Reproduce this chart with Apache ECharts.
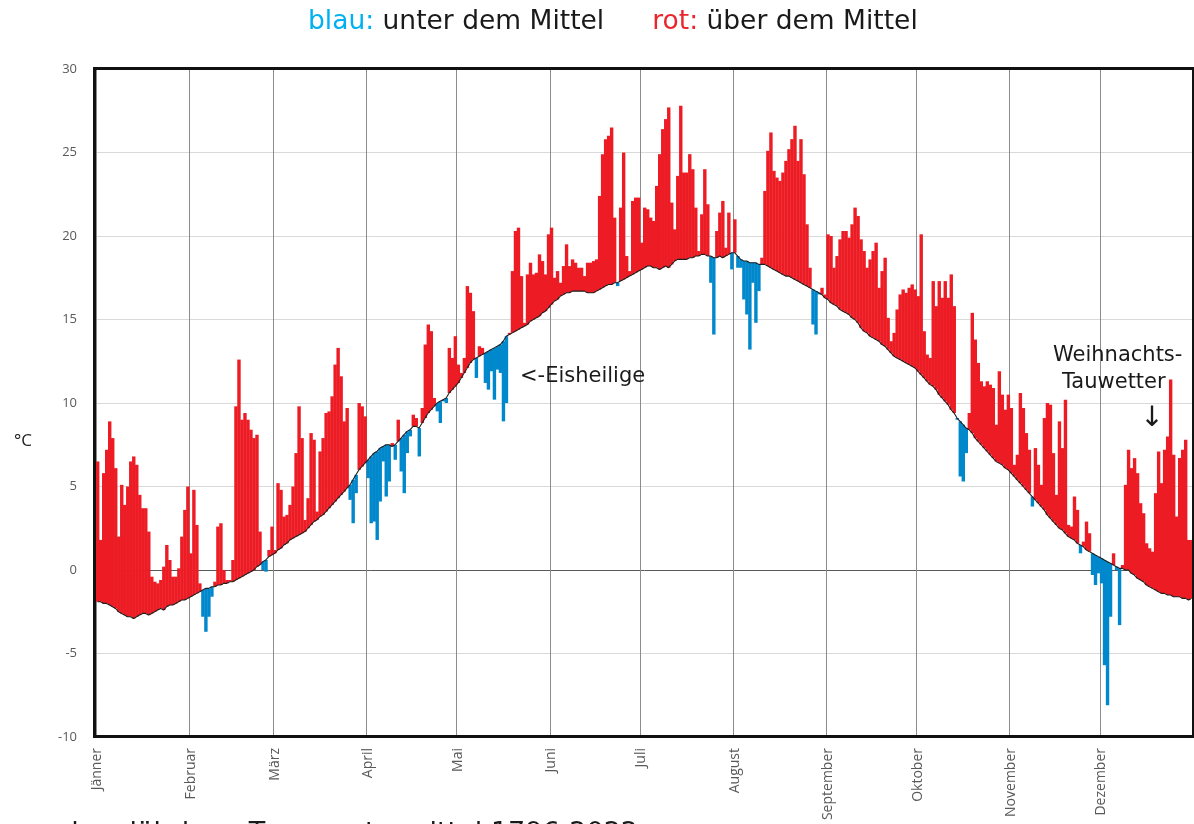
<!DOCTYPE html>
<html>
<head>
<meta charset="utf-8">
<script src="https://cdn.jsdelivr.net/npm/echarts@6/dist/echarts.min.js"></script>
<style>
html,body{margin:0;padding:0;background:#fff;}
#chart{width:1194px;height:824px;}
</style>
</head>
<body>
<div id="chart"></div>
<script>
var monthNames = ['Jänner','Februar','März','April','Mai','Juni','Juli','August','September','Oktober','November','Dezember'];
var monthDays = [31,28,31,30,31,30,31,31,30,31,30,31];

// Tagesmittel 2022 (°C)
var tJan = [6.5,1.8,5.8,7.2,8.9,7.9,6.1,2.0,5.1,3.9,5.0,6.5,6.8,6.3,4.5,3.7,3.7,2.3,-0.4,-0.7,-0.8,-0.6,0.2,1.5,0.6,-0.4,-0.4,0.1,2.0,3.6,5.0];
var tFeb = [1.0,4.8,2.7,-0.8,-2.8,-3.7,-2.8,-1.6,-0.7,2.6,2.8,0.0,-0.6,-0.6,0.6,9.8,12.6,9.0,9.4,9.0,8.4,7.9,8.1,2.3,0.0,-0.1,1.2,2.6];
var tMar = [1.2,5.2,4.8,3.2,3.3,3.9,5.0,7.0,9.8,7.9,3.0,4.3,8.2,7.8,3.5,7.1,7.9,9.4,9.5,10.4,12.3,13.3,11.6,8.9,9.7,4.2,2.8,4.6,10.0,9.8,9.2];
var tApr = [5.5,2.8,2.9,1.8,4.1,6.5,4.4,5.3,7.6,6.6,9.0,5.9,4.6,7.0,8.0,9.3,9.1,6.8,9.7,13.5,14.7,14.3,10.3,9.5,8.8,10.1,10.0,13.3,12.7,14.0];
var tMay = [12.3,11.8,12.7,17.0,16.6,15.5,11.5,13.4,13.3,11.2,10.8,11.9,10.2,12.0,11.8,8.9,10.0,14.2,17.9,20.3,20.5,17.6,14.8,17.7,18.4,17.7,17.8,18.9,18.5,17.7,20.1];
var tJun = [20.5,17.5,17.9,17.2,18.2,19.5,18.2,18.6,18.4,18.1,18.1,17.6,18.4,18.4,18.5,18.6,22.4,24.9,25.8,26.0,26.5,21.1,17.0,21.7,25.0,18.8,17.9,22.1,22.3,22.3];
var tJul = [19.6,21.7,21.6,21.1,20.9,23.0,24.9,26.4,27.0,27.7,22.0,20.4,23.6,27.8,23.8,23.8,24.9,24.0,21.7,19.1,21.3,24.0,21.9,17.2,14.1,20.3,21.4,22.1,19.3,21.4,18.0];
var tAug = [21.0,18.1,18.1,16.2,15.3,13.2,17.2,14.8,16.7,18.7,22.7,25.1,26.2,23.9,23.5,23.3,23.8,24.5,25.2,25.8,26.6,24.5,25.8,23.7,20.7,18.1,14.7,14.1,16.5,16.9,16.5];
var tSep = [20.1,20.0,18.1,18.8,19.8,20.3,20.3,19.9,20.7,21.7,21.2,19.8,19.1,18.1,18.6,19.1,19.6,16.9,17.9,18.7,15.1,13.7,14.2,15.6,16.5,16.8,16.6,16.9,17.1,16.8];
var tOct = [16.4,20.1,14.3,12.9,12.7,17.3,15.8,17.3,16.3,17.3,16.3,17.7,15.8,9.0,5.6,5.3,7.0,9.4,15.4,13.8,12.4,11.3,11.0,11.3,11.1,10.9,8.7,11.9,10.5,9.6,10.5];
var tNov = [9.7,6.3,6.9,10.6,9.7,8.2,7.2,3.8,7.3,6.3,5.1,9.1,10.0,9.9,7.0,4.5,8.9,7.3,10.2,2.7,2.6,4.4,3.6,1.0,1.7,2.9,2.2,-0.3,-0.9,-0.2];
var tDec = [-0.8,-5.7,-8.1,-2.8,1.0,0.0,-3.3,0.3,5.1,7.2,6.1,6.7,5.8,4.0,3.4,1.6,1.3,1.1,4.6,7.1,5.2,7.2,8.0,11.4,6.9,3.2,6.7,7.2,7.8,1.8,1.8];

// langjähriges Mittel 1796-2022 (°C)
var mJan = [-1.9,-1.9,-2.0,-2.0,-2.1,-2.2,-2.3,-2.5,-2.6,-2.7,-2.8,-2.8,-2.9,-2.8,-2.7,-2.6,-2.6,-2.7,-2.6,-2.5,-2.4,-2.3,-2.4,-2.2,-2.1,-2.1,-2.0,-1.9,-1.8,-1.8,-1.7];
var mFeb = [-1.6,-1.5,-1.4,-1.3,-1.2,-1.1,-1.1,-1.0,-1.0,-0.9,-0.9,-0.8,-0.8,-0.7,-0.7,-0.6,-0.5,-0.4,-0.3,-0.2,-0.1,0.0,0.2,0.3,0.5,0.6,0.8,0.9];
var mMar = [1.0,1.2,1.3,1.5,1.6,1.8,1.9,2.0,2.1,2.2,2.3,2.5,2.7,2.9,3.0,3.2,3.3,3.5,3.7,3.9,4.1,4.3,4.5,4.7,4.9,5.1,5.4,5.7,6.0,6.2,6.4];
var mApr = [6.6,6.8,7.0,7.1,7.3,7.4,7.5,7.5,7.4,7.5,7.7,7.9,8.1,8.3,8.4,8.6,8.6,8.5,8.8,9.1,9.4,9.6,9.8,10.0,10.1,10.2,10.3,10.6,10.8,11.0];
var mMay = [11.2,11.5,11.8,12.1,12.4,12.6,12.7,12.8,12.9,13.0,13.1,13.2,13.3,13.4,13.5,13.7,14.0,14.1,14.2,14.3,14.4,14.5,14.6,14.7,14.9,15.0,15.1,15.2,15.4,15.5,15.7];
var mJun = [15.9,16.1,16.2,16.4,16.5,16.6,16.6,16.7,16.7,16.7,16.7,16.7,16.6,16.6,16.6,16.7,16.8,16.9,17.0,17.1,17.1,17.2,17.2,17.3,17.4,17.5,17.6,17.7,17.8,17.9];
var mJul = [18.0,18.1,18.2,18.2,18.1,18.1,18.0,18.1,18.2,18.1,18.3,18.5,18.6,18.6,18.6,18.6,18.7,18.7,18.8,18.8,18.9,18.9,18.8,18.8,18.7,18.7,18.8,18.7,18.8,18.9,19.0];
var mAug = [19.0,18.8,18.6,18.5,18.5,18.4,18.4,18.4,18.3,18.3,18.3,18.2,18.1,18.0,17.9,17.8,17.7,17.6,17.6,17.5,17.4,17.3,17.2,17.1,17.0,16.9,16.8,16.7,16.6,16.5,16.3];
var mSep = [16.2,16.0,15.9,15.8,15.6,15.5,15.4,15.3,15.1,15.0,14.8,14.5,14.3,14.2,14.0,13.9,13.8,13.7,13.5,13.4,13.2,13.0,12.8,12.7,12.6,12.5,12.4,12.3,12.2,12.1];
var mOct = [11.9,11.7,11.5,11.3,11.1,11.0,10.8,10.5,10.3,10.1,9.9,9.6,9.4,9.1,8.9,8.7,8.5,8.4,8.2,7.9,7.7,7.5,7.3,7.1,6.9,6.7,6.5,6.4,6.3,6.1,6.0];
var mNov = [5.8,5.6,5.4,5.2,5.0,4.8,4.6,4.4,4.2,4.0,3.8,3.6,3.3,3.1,2.9,2.7,2.5,2.4,2.2,2.0,1.9,1.8,1.6,1.5,1.4,1.2,1.1,1.0,0.9,0.8];
var mDec = [0.7,0.6,0.5,0.4,0.3,0.2,0.1,0.1,0.0,0.0,-0.2,-0.3,-0.5,-0.6,-0.7,-0.9,-1.0,-1.1,-1.2,-1.3,-1.4,-1.4,-1.5,-1.5,-1.6,-1.6,-1.6,-1.7,-1.7,-1.8,-1.7];

var yMin = -10, yMax = 30, yStep = 5;

var temps = [].concat(tJan,tFeb,tMar,tApr,tMay,tJun,tJul,tAug,tSep,tOct,tNov,tDec);
var means = [].concat(mJan,mFeb,mMar,mApr,mMay,mJun,mJul,mAug,mSep,mOct,mNov,mDec);

// Tages-Kategorien und Monatsanfänge
var days = [], monthStart = [], monthOf = {};
monthDays.forEach(function (n, m) {
	monthStart.push(days.length);
	for (var d = 1; d <= n; d++) {
		var key = d + '.' + (m + 1) + '.';
		if (d === 1) monthOf[key] = monthNames[m];
		days.push(key);
	}
});
function isMonthStart(index) { return monthStart.indexOf(index) >= 0; }

var RED = '#ed1c24', BLUE = '#0088cc';
var barData = temps.map(function (v, i) { return [i, means[i], v]; });

var myChart = echarts.init(document.getElementById('chart'));
var option = {
	animation: false,
	title: {
		text: '{b|blau:} unter dem Mittel{sp|}{r|rot:} über dem Mittel',
		left: 303, top: 4,
		textStyle: {
			fontFamily: 'DejaVu Sans', fontSize: 26.5, fontWeight: 'normal', color: '#1a1a1a',
			rich: {
				b: {color: '#00b0f0', fontFamily: 'DejaVu Sans', fontSize: 26.5},
				r: {color: '#e8262c', fontFamily: 'DejaVu Sans', fontSize: 26.5},
				sp: {width: 48}
			}
		}
	},
	grid: {left: 96, right: 1, top: 69, bottom: 87},
	xAxis: {
		type: 'category',
		data: days,
		boundaryGap: true,
		axisLine: {show: false},
		axisTick: {show: false},
		axisLabel: {
			interval: isMonthStart,
			rotate: 90,
			margin: 11,
			fontFamily: 'Open Sans', fontSize: 14, color: '#595959',
			formatter: function (v) { return monthOf[v] || ''; }
		},
		splitLine: {show: true, interval: isMonthStart, lineStyle: {color: '#8c8c8c', width: 1}}
	},
	yAxis: {
		type: 'value',
		min: yMin, max: yMax, interval: yStep,
		axisLine: {show: false},
		axisTick: {show: false},
		axisLabel: {margin: 19, fontFamily: 'Open Sans', fontSize: 13, color: '#595959'},
		splitLine: {lineStyle: {color: ['#d9d9d9','#d9d9d9','#595959','#d9d9d9','#d9d9d9','#d9d9d9','#d9d9d9','#d9d9d9','#d9d9d9'], width: 1}}
	},
	series: [{
		type: 'custom',
		data: barData,
		encode: {x: 0, y: [1, 2]},
		clip: true,
		renderItem: function (params, api) {
			var i = api.value(0);
			var m = api.value(1), t = api.value(2);
			var p1 = api.coord([i, m]);
			var p2 = api.coord([i, t]);
			var w = api.size([1, 0])[0];
			return {
				type: 'rect',
				shape: {x: p1[0] - w / 2, y: Math.min(p1[1], p2[1]), width: w + 0.4, height: Math.max(Math.abs(p2[1] - p1[1]), 0.8)},
				style: {fill: t >= m ? RED : BLUE}
			};
		},
		z: 2
	}, {
		type: 'line',
		data: means,
		symbol: 'none',
		lineStyle: {color: '#1e1e1e', width: 1.1},
		z: 3
	}],
	graphic: [
		{type: 'rect', z: 100, shape: {x: 94.5, y: 68.5, width: 1099, height: 668}, style: {fill: null, stroke: '#111', lineWidth: 3}},
		{type: 'text', z: 100, x: 23, y: 441, style: {text: '°C', fontFamily: 'Open Sans', fontSize: 17, fill: '#222', align: 'center', verticalAlign: 'middle'}},
		{type: 'text', z: 100, x: 520, y: 377, style: {text: '<-Eisheilige', fontFamily: 'DejaVu Sans', fontSize: 21, fill: '#1a1a1a', verticalAlign: 'middle'}},
		{type: 'text', z: 100, x: 1053, y: 356, style: {text: 'Weihnachts-', fontFamily: 'DejaVu Sans', fontSize: 21, fill: '#1a1a1a', verticalAlign: 'middle'}},
		{type: 'text', z: 100, x: 1062, y: 383, style: {text: 'Tauwetter', fontFamily: 'DejaVu Sans', fontSize: 21, fill: '#1a1a1a', verticalAlign: 'middle'}},
		{type: 'text', z: 100, x: 1152, y: 419, style: {text: '↓', fontFamily: 'DejaVu Sans', fontSize: 28, fill: '#1a1a1a', align: 'center', verticalAlign: 'middle'}},
		{type: 'text', z: 100, x: 5, y: 834, style: {text: 'zum langjährigen Temperaturmittel 1796-2022', fontFamily: 'DejaVu Sans', fontSize: 27, fill: '#1a1a1a', verticalAlign: 'middle'}}
	]
};
myChart.setOption(option);
</script>
</body>
</html>
